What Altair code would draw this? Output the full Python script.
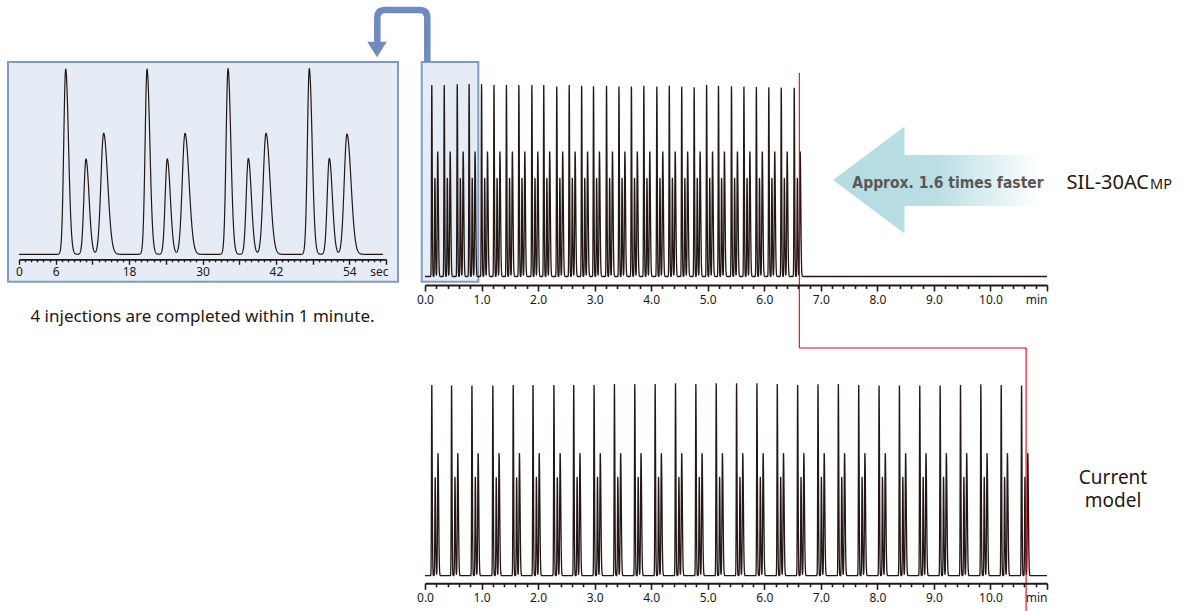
import altair as alt
import numpy as np
import pandas as pd

W, H = 1193, 611
INK = "#231815"
BOX_FILL = "#e6ecf6"
BOX_STROKE = "#819bc9"
BRACKET = "#6f8abf"
RED = "#e60012"
FONT = "Noto Sans"

# ------------------------------------------------------------------ data
# Inset: first minute of the SIL-30ACMP run (seconds, relative height)
INSET_TALL_T = [7.63, 20.93, 34.17, 47.46]
INSET_SHORT_T = [10.95, 24.24, 37.49, 50.73]
INSET_MED_T = [13.84, 27.14, 40.38, 53.62]
INSET_TALL_H = [100.0, 100.0, 100.3, 100.3]
INSET_SHORT_H = [51.5, 51.5, 51.8, 51.8]
INSET_MED_H = [65.4, 65.4, 65.4, 65.0]
# peak widths (sigma, seconds) of the three compounds
PEAK_SIGMA_S = [0.37, 0.40, 0.53]

# SIL-30ACMP: retention of first (tall) peak of each injection, min
TOP_TALL_T = [0.12, 0.34, 0.57, 0.78, 1.00, 1.22, 1.44, 1.66, 1.89, 2.10,
              2.33, 2.55, 2.77, 2.98, 3.21, 3.43, 3.65, 3.87, 4.10, 4.32,
              4.54, 4.76, 4.98, 5.19, 5.42, 5.64, 5.86, 6.08, 6.30, 6.53]
TOP_TALL_H = [100, 100, 100.4, 100.5, 100.4, 100, 100, 100, 100, 100,
              99.3, 100, 99.6, 99.3, 99.65, 99.3, 99.3, 99.65, 99.1, 99.65,
              99.1, 98.8, 100, 99.65, 99.3, 99.1, 98.96, 98.8, 98.6, 98.6]
TOP_SHORT_H = 51.3
TOP_MED_H = 65.2
TOP_SHORT_DELAY = 0.055
TOP_MED_DELAY = 0.105

# Current model
BOT_TALL_T = [0.12, 0.47, 0.83, 1.20, 1.56, 1.91, 2.28, 2.63, 2.99, 3.35,
              3.71, 4.07, 4.43, 4.79, 5.15, 5.51, 5.87, 6.23, 6.59, 6.95,
              7.31, 7.67, 8.03, 8.39, 8.75, 9.11, 9.47, 9.83, 10.19, 10.55]
BOT_TALL_H = [100, 99.7, 99.7, 99.7, 100, 100, 100, 100, 100, 100.5,
              100.5, 100.5, 100.9, 100.5, 100.9, 100.9, 100.9, 100.5, 100, 100.4,
              100.5, 100, 99.7, 99.7, 99.7, 99.7, 100, 100.4, 100, 99.7]
BOT_SHORT_H = 51.6
BOT_MED_H = 64.2
BOT_SHORT_DELAY = 0.06
BOT_MED_DELAY = 0.11

# end of the last injection in each run (min)
TOP_END = 6.62
BOT_END = 10.63
# highlighted first minute on the upper chromatogram (min)
HIGHLIGHT = [-0.058, 0.943]

MAIN_TICKS = [i / 5 for i in range(56)]
MAIN_LABELS = [0, 1, 2, 3, 4, 5, 6, 7, 8, 9, 10]
INSET_TICKS = list(range(0, 61))
INSET_LABELS = [0, 6, 18, 30, 42, 54]


# ------------------------------------------------------------------ traces
def peak(t, c, h, s):
    sig = np.where(t < c, 0.85 * s, 1.25 * s)
    return h * np.exp(-0.5 * ((t - c) / sig) ** 2)


def build_trace(peaks, t_end, coarse, fine):
    grid = [np.arange(0, t_end + 1e-9, coarse)]
    for c, h, s in peaks:
        grid.append(np.arange(c - 6 * s, c + 8 * s, fine))
    t = np.unique(np.round(np.concatenate(grid), 5))
    t = t[(t >= 0) & (t <= t_end)]
    v = np.zeros_like(t)
    for c, h, s in peaks:
        v += peak(t, c, h, s)
    return pd.DataFrame({"t": t, "v": v})


inset_peaks = []
for i in range(4):
    inset_peaks += [(INSET_TALL_T[i], INSET_TALL_H[i], PEAK_SIGMA_S[0]),
                    (INSET_SHORT_T[i], INSET_SHORT_H[i], PEAK_SIGMA_S[1]),
                    (INSET_MED_T[i], INSET_MED_H[i], PEAK_SIGMA_S[2])]
inset_df = build_trace(inset_peaks, 59.5, 0.25, 0.04)


def main_peaks(tall_t, tall_h, sh, mh, sd, md):
    out = []
    s = [x / 60 for x in PEAK_SIGMA_S]
    for t0, h0 in zip(tall_t, tall_h):
        out += [(t0, h0, s[0]), (t0 + sd, sh, s[1]), (t0 + md, mh, s[2])]
    return out


top_df = build_trace(main_peaks(TOP_TALL_T, TOP_TALL_H, TOP_SHORT_H, TOP_MED_H,
                                TOP_SHORT_DELAY, TOP_MED_DELAY), 11.0, 0.02, 0.0012)
bot_df = build_trace(main_peaks(BOT_TALL_T, BOT_TALL_H, BOT_SHORT_H, BOT_MED_H,
                                BOT_SHORT_DELAY, BOT_MED_DELAY), 11.0, 0.02, 0.0012)

one = pd.DataFrame({"k": [0]})


# ------------------------------------------------------------------ scales / axes
def main_x():
    return alt.Scale(domain=[0, 11], range=[425, 1047], nice=False, zero=False)


def main_axis(axis_y):
    return alt.Axis(
        orient="bottom", offset=axis_y - H, values=MAIN_TICKS, title=None, zindex=2,
        labelExpr=("datum.value === 11 ? 'min' : (indexof(%s, datum.value) >= 0 ? "
                   "format(datum.value, '.1f') : '')" % MAIN_LABELS),
        labelAlign={"condition": {"test": "datum.value === 11", "value": "right"}, "value": "center"},
        tickSize={"condition": {"test": "datum.value % 1 === 0", "value": 6}, "value": 3.5},
        tickWidth=1.6, tickColor=INK, domainColor=INK, domainWidth=2,
        labelFont=FONT, labelFontSize=12, labelColor=INK, labelPadding=3,
        labelOverlap=False, labelFlush=False, labelBound=False, grid=False,
    )


inset_axis = alt.Axis(
    orient="bottom", offset=259.3 - H, values=INSET_TICKS, title=None, zindex=2,
    labelExpr=("datum.value === 60 ? 'sec' : (indexof(%s, datum.value) >= 0 ? "
               "format(datum.value, 'd') : '')" % INSET_LABELS),
    labelAlign={"condition": {"test": "datum.value === 60", "value": "right"}, "value": "center"},
    labelOffset={"condition": {"test": "datum.value === 60", "value": 2}, "value": 0},
    tickSize={"condition": {"test": "datum.value % 6 === 0", "value": 5}, "value": 2.5},
    tickWidth=1.4, tickColor=INK, domainColor=INK, domainWidth=1.8,
    labelFont=FONT, labelFontSize=12, labelColor=INK, labelPadding=2,
    labelOverlap=False, labelFlush=False, labelBound=False, grid=False,
)

# ------------------------------------------------------------------ layers
inset_box = alt.Chart(one).mark_rect(fill=BOX_FILL, stroke=BOX_STROKE, strokeWidth=2).encode(
    x=alt.value(8), x2=alt.value(398), y=alt.value(62), y2=alt.value(281.7))

inset_line = alt.Chart(inset_df).mark_line(color=INK, strokeWidth=1.2).encode(
    x=alt.X("t:Q", scale=alt.Scale(domain=[0, 60], range=[19, 386], nice=False, zero=False),
            axis=inset_axis),
    y=alt.Y("v:Q", scale=alt.Scale(domain=[0, 100], range=[254.3, 69.3], nice=False, zero=False),
            axis=None),
)

hl_df = pd.DataFrame({"a": [HIGHLIGHT[0]], "b": [HIGHLIGHT[1]]})
top_box = alt.Chart(hl_df).mark_rect(fill=BOX_FILL, stroke=BOX_STROKE, strokeWidth=2).encode(
    x=alt.X("a:Q", scale=main_x(), axis=None), x2="b:Q",
    y=alt.value(62), y2=alt.value(281.7))

top_line = alt.Chart(top_df).mark_line(color=INK, strokeWidth=1.3).encode(
    x=alt.X("t:Q", scale=main_x(), axis=main_axis(285)),
    y=alt.Y("v:Q", scale=alt.Scale(domain=[0, 100], range=[276.5, 85], nice=False, zero=False),
            axis=None),
)

bot_line = alt.Chart(bot_df).mark_line(color=INK, strokeWidth=1.3).encode(
    x=alt.X("t:Q", scale=main_x(), axis=main_axis(583.3)),
    y=alt.Y("v:Q", scale=alt.Scale(domain=[0, 100], range=[575.7, 385], nice=False, zero=False),
            axis=None),
)

red_df = pd.DataFrame({"t0": [TOP_END], "t1": [BOT_END]})
red_v1 = alt.Chart(red_df).mark_rule(color=RED, strokeWidth=1.1).encode(
    x=alt.X("t0:Q", scale=main_x(), axis=None), y=alt.value(73), y2=alt.value(348))
red_h = alt.Chart(red_df).mark_rule(color=RED, strokeWidth=1.1).encode(
    x=alt.X("t0:Q", scale=main_x(), axis=None), x2="t1:Q", y=alt.value(348))
red_v2 = alt.Chart(red_df).mark_rule(color=RED, strokeWidth=1.1).encode(
    x=alt.X("t1:Q", scale=main_x(), axis=None), y=alt.value(348), y2=alt.value(611))

# bracket arrow from highlighted box to the inset
BRACKET_PATH = ("M 0.843 0.9 L 0.843 -0.567 Q 0.843 -0.833 0.577 -0.833 "
                "L -0.557 -0.833 Q -0.823 -0.833 -0.823 -0.567 L -0.823 0.267")
bracket = alt.Chart(one).mark_point(
    shape=BRACKET_PATH, size=3600, filled=False, stroke=BRACKET, strokeWidth=6.5,
    opacity=1, strokeCap="butt", strokeJoin="round").encode(x=alt.value(402), y=alt.value(35))
HEAD_PATH = "M -0.97 -0.78 L 0.97 -0.78 L 0 0.78 Z"
bracket_head = alt.Chart(one).mark_point(
    shape=HEAD_PATH, size=400, filled=True, fill=BRACKET, strokeWidth=0, opacity=1).encode(
    x=alt.value(377), y=alt.value(49.5))

# big "faster" arrow
ARROW_PATH = ("M -1 0 L -0.309 -0.517 L -0.309 -0.242 L 1 -0.242 L 1 0.251 "
              "L -0.309 0.251 L -0.309 0.517 Z")
arrow = alt.Chart(one).mark_point(
    shape=ARROW_PATH, size=42849, filled=True, strokeWidth=0, opacity=1,
    fill={"gradient": "linear", "x1": 0, "x2": 1, "y1": 0, "y2": 0,
          "stops": [{"offset": 0, "color": "#b5dce3"},
                    {"offset": 0.5, "color": "#b9dee4"},
                    {"offset": 1, "color": "#ffffff"}]}).encode(
    x=alt.value(936.5), y=alt.value(180))

arrow_text = alt.Chart(one).mark_text(
    text="Approx. 1.6 times faster", font="Liberation Sans Narrow, DejaVu Sans Condensed, sans-serif",
    fontWeight="bold", fontSize=15.5, color="#595757", align="center", baseline="alphabetic").encode(
    x=alt.value(948), y=alt.value(187.5))

sil_text = alt.Chart(one).mark_text(
    text="SIL-30AC", font=FONT, fontSize=20, color=INK, align="right", baseline="alphabetic").encode(
    x=alt.value(1149), y=alt.value(188.5))
mp_text = alt.Chart(one).mark_text(
    text="MP", font=FONT, fontSize=14.5, color=INK, align="left", baseline="alphabetic").encode(
    x=alt.value(1150), y=alt.value(188.5))

model_label = alt.Chart(one).mark_text(
    text=["Current", "model"], font=FONT, fontSize=19, lineHeight=23.5, color=INK,
    align="center", baseline="alphabetic").encode(
    x=alt.value(1113), y=alt.value(483.5))

note_text = alt.Chart(one).mark_text(
    text="4 injections are completed within 1 minute.", font=FONT, fontSize=17, color=INK,
    align="center", baseline="alphabetic").encode(x=alt.value(202.5), y=alt.value(321.5))

chart = alt.layer(
    inset_box, inset_line, top_box, top_line, bot_line,
    red_v1, red_h, red_v2, bracket, bracket_head, arrow, arrow_text,
    sil_text, mp_text, model_label, note_text,
).resolve_scale(x="independent", y="independent").properties(
    width=W, height=H, padding=0, autosize=alt.AutoSizeParams(type="none"),
    background="white",
).configure_view(stroke=None)

chart.save("out.html", embed_options={"renderer": "svg", "actions": False})
